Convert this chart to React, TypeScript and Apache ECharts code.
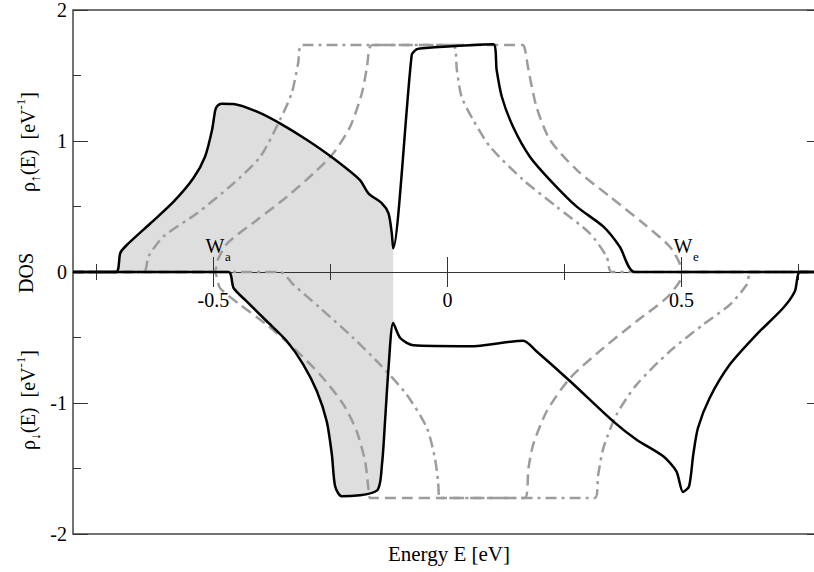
import React, { useEffect, useRef } from 'react';
import * as echarts from 'echarts';

type Pt = [number, number];

// Energy range and tick positions of the energy axis
const E_MIN = -0.8;
const E_MAX = 0.8;
const energyMajorTicks = [-0.5, 0, 0.5];
const energyMinorTicks = [-0.75, -0.25, 0.25, 0.75];

// DOS range of each half of the panel
const DOS_MAX = 2;
const DOS_MIN = -2;

// Upper edge of the shaded (occupied) region
const FILL_EDGE = -0.116;

// Spin-up DOS of the full calculation (solid, upper half)
const spinUpDos: Pt[] = [
  [-0.8, 0], [-0.708, 0], [-0.699, 0.145], [-0.685, 0.206], [-0.635, 0.37],
  [-0.585, 0.537], [-0.543, 0.715], [-0.518, 0.88], [-0.503, 1.084], [-0.496, 1.237],
  [-0.491, 1.27], [-0.483, 1.285], [-0.457, 1.283], [-0.407, 1.224], [-0.358, 1.135],
  [-0.3, 1.008], [-0.244, 0.868], [-0.187, 0.702], [-0.169, 0.601], [-0.14, 0.524],
  [-0.126, 0.448], [-0.119, 0.295], [-0.116, 0.181], [-0.0765, 1.656], [-0.066, 1.7],
  [-0.059, 1.707], [0.098, 1.738], [0.105, 1.542], [0.116, 1.338], [0.14, 1.109],
  [0.176, 0.88], [0.219, 0.702], [0.276, 0.499], [0.333, 0.346], [0.368, 0.193],
  [0.4, 0], [0.8, 0],
];

// Spin-down DOS of the full calculation (solid, lower half)
const spinDownDos: Pt[] = [
  [-0.8, 0], [-0.468, 0], [-0.457, -0.122], [-0.429, -0.224], [-0.386, -0.376],
  [-0.343, -0.529], [-0.308, -0.707], [-0.279, -0.911], [-0.258, -1.14], [-0.247, -1.394],
  [-0.24, -1.636], [-0.226, -1.712], [-0.151, -1.669], [-0.14, -1.47], [-0.133, -1.115],
  [-0.126, -0.733], [-0.116, -0.389], [-0.101, -0.504], [-0.073, -0.56], [0.048, -0.567],
  [0.162, -0.524], [0.19, -0.605], [0.262, -0.834], [0.354, -1.14], [0.404, -1.28],
  [0.461, -1.407], [0.489, -1.522], [0.503, -1.679], [0.516, -1.636], [0.525, -1.394],
  [0.535, -1.191], [0.56, -0.962], [0.603, -0.707], [0.66, -0.478], [0.717, -0.275],
  [0.742, -0.147], [0.753, 0], [0.8, 0],
];

// Bare band DOS, spin up (dashed) and its shifted copy (dash-dot)
const upBare: Pt[] = [
  [-0.8, 0], [-0.5, 0], [-0.49, 0.1], [-0.47, 0.22], [-0.407, 0.397], [-0.343, 0.575],
  [-0.286, 0.753], [-0.244, 0.906], [-0.208, 1.109], [-0.183, 1.364], [-0.172, 1.567],
  [-0.167, 1.707], [-0.16, 1.733], [0.16, 1.733], [0.165, 1.707], [0.173, 1.542],
  [0.19, 1.262], [0.219, 1.008], [0.276, 0.779], [0.347, 0.575], [0.418, 0.372],
  [0.475, 0.193], [0.496, 0.066], [0.5, 0], [0.8, 0],
];

const upShifted: Pt[] = [
  [-0.8, 0], [-0.649, 0], [-0.639, 0.117], [-0.607, 0.27], [-0.535, 0.448],
  [-0.457, 0.677], [-0.4, 0.88], [-0.358, 1.16], [-0.333, 1.364], [-0.319, 1.593],
  [-0.311, 1.733], [0.012, 1.733], [0.02, 1.542], [0.03, 1.338], [0.055, 1.16],
  [0.091, 0.956], [0.162, 0.702], [0.233, 0.499], [0.304, 0.295], [0.34, 0.117],
  [0.351, 0], [0.8, 0],
];

// Bare band DOS, spin down (dashed) and its shifted copy (dash-dot)
const downBare: Pt[] = [
  [-0.8, 0], [-0.5, 0], [-0.486, -0.122], [-0.443, -0.25], [-0.386, -0.402],
  [-0.329, -0.58], [-0.272, -0.784], [-0.222, -1.013], [-0.194, -1.216], [-0.176, -1.445],
  [-0.169, -1.649], [-0.165, -1.725], [0.165, -1.725], [0.173, -1.496], [0.183, -1.318],
  [0.212, -1.063], [0.262, -0.809], [0.333, -0.58], [0.404, -0.376], [0.468, -0.198],
  [0.496, -0.071], [0.5, 0], [0.8, 0],
];

const downShifted: Pt[] = [
  [-0.8, 0], [-0.358, 0], [-0.329, -0.097], [-0.272, -0.275], [-0.201, -0.504],
  [-0.144, -0.707], [-0.087, -0.937], [-0.044, -1.191], [-0.027, -1.42], [-0.02, -1.598],
  [-0.016, -1.725], [0.315, -1.725], [0.322, -1.547], [0.333, -1.344], [0.361, -1.089],
  [0.404, -0.86], [0.475, -0.605], [0.546, -0.402], [0.603, -0.25], [0.639, -0.097],
  [0.649, 0], [0.8, 0],
];

const SERIF = '"Liberation Serif", "Times New Roman", serif';
const INK = '#000';
const AXIS = '#333';
const GREY = '#9c9c9c';
const SHADE = '#dedede';
const SMOOTH = 0.25;

// Plot box in pixels; the energy axis runs through the middle (DOS = 0)
const PLOT_LEFT = 73;
const PLOT_TOP = 10;
const PLOT_WIDTH = 749;
const PLOT_HEIGHT = 524;

function buildOption(): echarts.EChartsCoreOption {
  const tickStyle = { color: AXIS, width: 1 };
  const half = PLOT_HEIGHT / 2;

  const gridBase = {
    left: PLOT_LEFT,
    width: PLOT_WIDTH,
    outerBoundsMode: 'none',
    containLabel: false,
  };

  // Energy axes: grid 0 carries the data, grids 1/2 are the upper/lower halves
  // whose shared edge is the DOS = 0 line, giving ticks on both sides of it.
  const energyAxis = (
    gridIndex: number,
    position: 'top' | 'bottom',
    ticks: number[] | null,
    length: number,
    showLine: boolean,
    labels: boolean,
  ) => ({
    type: 'value',
    gridIndex,
    min: E_MIN,
    max: E_MAX,
    position,
    z: 2,
    axisLine: { show: showLine, onZero: false, lineStyle: { color: AXIS, width: 1 } },
    axisTick: ticks
      ? { show: true, inside: true, length, customValues: ticks, lineStyle: tickStyle }
      : { show: false },
    axisLabel: labels
      ? { show: true, customValues: ticks, margin: 18, fontFamily: SERIF, fontSize: 20, color: INK }
      : { show: false },
    splitLine: { show: false },
  });

  const dosAxis = (position: 'left' | 'right', labels: boolean) => ({
    type: 'value',
    gridIndex: 0,
    min: DOS_MIN,
    max: DOS_MAX,
    interval: 1,
    position,
    axisLine: { show: false, onZero: false },
    axisTick: { show: true, inside: true, length: 15, lineStyle: tickStyle },
    minorTick: { show: true, splitNumber: 2, length: 8, lineStyle: tickStyle },
    axisLabel: labels
      ? { show: true, margin: 6, fontFamily: SERIF, fontSize: 20, color: INK }
      : { show: false },
    splitLine: { show: false },
  });

  const hiddenDosAxis = (gridIndex: number, min: number, max: number) => ({
    type: 'value',
    gridIndex,
    min,
    max,
    show: false,
    axisLine: { onZero: false },
  });

  const curve = (data: Pt[], color: string, type: any, z: number) => ({
    type: 'line',
    xAxisIndex: 0,
    yAxisIndex: 0,
    data,
    symbol: 'none',
    showSymbol: false,
    smooth: SMOOTH,
    z,
    lineStyle: { color, width: 2.5, type, cap: 'butt', join: 'round' },
    silent: true,
  });

  const shade = (data: Pt[]) => ({
    type: 'line',
    xAxisIndex: 0,
    yAxisIndex: 0,
    data: data.filter(([e]) => e <= FILL_EDGE),
    symbol: 'none',
    showSymbol: false,
    smooth: SMOOTH,
    z: 1,
    lineStyle: { width: 0, opacity: 0 },
    areaStyle: { color: SHADE, opacity: 1 },
    silent: true,
  });

  const label = (text: string, x: number, y: number, size: number) => ({
    type: 'text',
    x,
    y,
    z: 100,
    style: { text, font: `${size}px ${SERIF}`, fill: INK, align: 'center', verticalAlign: 'middle' },
  });

  const spinLabel = (arrow: string, y: number) => ({
    type: 'text',
    x: 28,
    y,
    z: 100,
    rotation: Math.PI / 2,
    style: {
      text: `{m|ρ}{s|${arrow}}{m|(E)  [eV}{p|-1}{m|]}`,
      align: 'center',
      verticalAlign: 'middle',
      rich: {
        m: { fontFamily: SERIF, fontSize: 20, lineHeight: 28, fill: INK },
        s: { fontFamily: SERIF, fontSize: 14, lineHeight: 14, verticalAlign: 'bottom', fill: INK },
        p: { fontFamily: SERIF, fontSize: 13, lineHeight: 13, verticalAlign: 'top', fill: INK },
      },
    },
  });

  return {
    animation: false,
    backgroundColor: '#fff',
    grid: [
      {
        ...gridBase,
        top: PLOT_TOP,
        height: PLOT_HEIGHT,
        show: true,
        borderColor: '#444',
        borderWidth: 1.5,
        backgroundColor: 'transparent',
      },
      { ...gridBase, top: PLOT_TOP, height: half, show: false },
      { ...gridBase, top: PLOT_TOP + half, height: half, show: false },
    ],
    xAxis: [
      energyAxis(0, 'bottom', null, 0, false, false),
      energyAxis(1, 'bottom', energyMajorTicks, 15, true, true),
      energyAxis(1, 'bottom', energyMinorTicks, 8, false, false),
      energyAxis(2, 'top', energyMajorTicks, 15, false, false),
      energyAxis(2, 'top', energyMinorTicks, 8, false, false),
    ],
    yAxis: [
      dosAxis('left', true),
      dosAxis('right', false),
      hiddenDosAxis(1, 0, DOS_MAX),
      hiddenDosAxis(2, DOS_MIN, 0),
    ],
    series: [
      shade(spinUpDos),
      shade(spinDownDos),
      curve(upBare, GREY, [11, 6], 3),
      curve(upShifted, GREY, [11, 5, 3, 5], 3),
      curve(downBare, GREY, [11, 6], 3),
      curve(downShifted, GREY, [11, 5, 3, 5], 3),
      curve(spinUpDos, INK, 'solid', 4),
      curve(spinDownDos, INK, 'solid', 4),
    ],
    graphic: [
      { ...label('DOS', 26, 273, 20), rotation: Math.PI / 2 },
      spinLabel('↑', 142),
      spinLabel('↓', 400),
      label('Energy E [eV]', 449, 554, 21),
      label('W', 215, 246, 20),
      label('a', 228, 256, 13),
      label('W', 683, 246, 20),
      label('e', 696, 256, 13),
    ],
  };
}

export default function App() {
  const ref = useRef<HTMLDivElement>(null);

  useEffect(() => {
    if (!ref.current) return;
    const chart = echarts.init(ref.current, undefined, { renderer: 'svg' });
    chart.setOption(buildOption());
    return () => chart.dispose();
  }, []);

  return (
    <div
      ref={ref}
      style={{ position: 'fixed', left: 0, top: 0, width: 814, height: 572, background: '#fff' }}
    />
  );
}
